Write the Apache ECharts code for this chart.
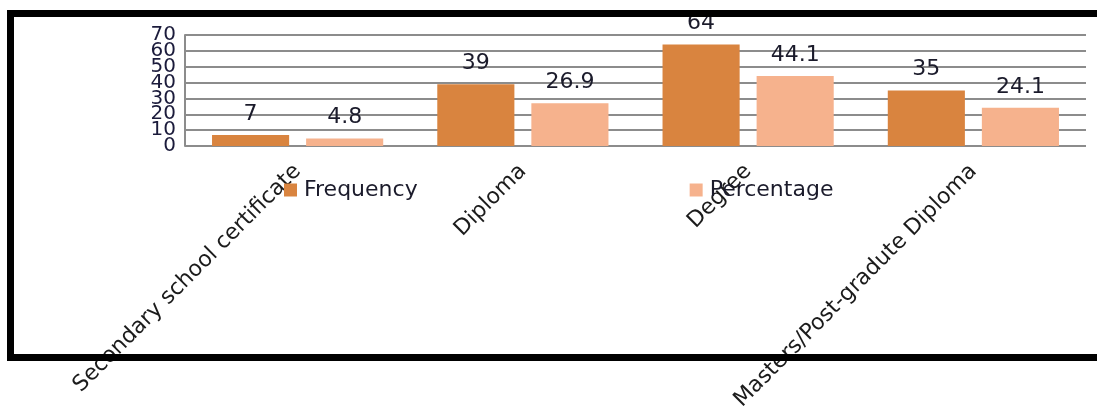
<!DOCTYPE html>
<html>
<head>
<meta charset="utf-8">
<script src="https://cdn.jsdelivr.net/npm/echarts@6/dist/echarts.min.js"></script>
<style>
html,body{margin:0;padding:0;background:#fff;}
#chart{width:1097px;height:408px;}
</style>
</head>
<body>
<div id="chart"></div>
<script>
const categories = ["Secondary school certificate", "Diploma", "Degree", "Masters/Post-gradute Diploma"];
const frequency = [7, 39, 64, 35];
const percentage = [4.8, 26.9, 44.1, 24.1];
const seriesNames = ["Frequency", "Percentage"];
const yMin = 0, yMax = 70, yStep = 10;

const FONT = "DejaVu Sans";
const chart = echarts.init(document.getElementById('chart'));
const labelStyle = {show: true, position: 'top', distance: 10, fontFamily: FONT, fontSize: 22, color: '#1b1b2b'};
const yLabelBase = {margin: 9, fontFamily: FONT, fontSize: 20, color: '#1b1b3b', hideOverlap: false};
// ECharts hides a label that collides with the min/max one; the end labels go on the main axis,
// and a second, label-only axis on the same scale carries the inner ones, so every tick label shows.
const isEnd = v => v === yMin || v === yMax;
chart.setOption({
  animation: false,
  grid: {left: 185, right: 11, top: 35, bottom: 262, containLabel: false, outerBoundsMode: 'none'},
  legend: {
    left: 279, top: 174, itemWidth: 13, itemHeight: 13, itemGap: 272,
    icon: 'rect',
    textStyle: {fontFamily: FONT, fontSize: 22, color: '#1b1b2b', padding: [0, 0, 0, 2]},
    data: seriesNames
  },
  xAxis: {
    type: 'category', data: categories,
    axisLine: {show: false}, axisTick: {show: false},
    axisLabel: {rotate: 45, margin: 22, interval: 0, fontFamily: FONT, fontSize: 22, color: '#1b1b1b'}
  },
  yAxis: [{
    type: 'value', min: yMin, max: yMax, interval: yStep,
    axisLine: {show: true, lineStyle: {color: '#8c8c8c', width: 2}},
    axisTick: {show: false},
    axisLabel: Object.assign({}, yLabelBase, {showMinLabel: true, showMaxLabel: true,
      formatter: v => isEnd(v) ? String(v) : ''}),
    splitLine: {lineStyle: {color: '#8c8c8c', width: 2}}
  }, {
    type: 'value', min: yMin, max: yMax, interval: yStep, position: 'left', offset: 0,
    axisLine: {show: false}, axisTick: {show: false}, splitLine: {show: false},
    axisLabel: Object.assign({}, yLabelBase, {showMinLabel: false, showMaxLabel: false,
      formatter: v => isEnd(v) ? '' : String(v)})
  }],
  series: [
    {name: seriesNames[0], type: 'bar', data: frequency, barCategoryGap: '24%', barGap: '22%',
     itemStyle: {color: '#D9843F'}, label: labelStyle},
    {name: seriesNames[1], type: 'bar', data: percentage,
     itemStyle: {color: '#F6B28D'}, label: labelStyle}
  ],
  graphic: [{
    type: 'rect', z: 100, silent: true,
    shape: {x: 10.5, y: 13.5, width: 1100, height: 344},
    style: {fill: 'none', stroke: '#000', lineWidth: 7}
  }]
});
</script>
</body>
</html>
